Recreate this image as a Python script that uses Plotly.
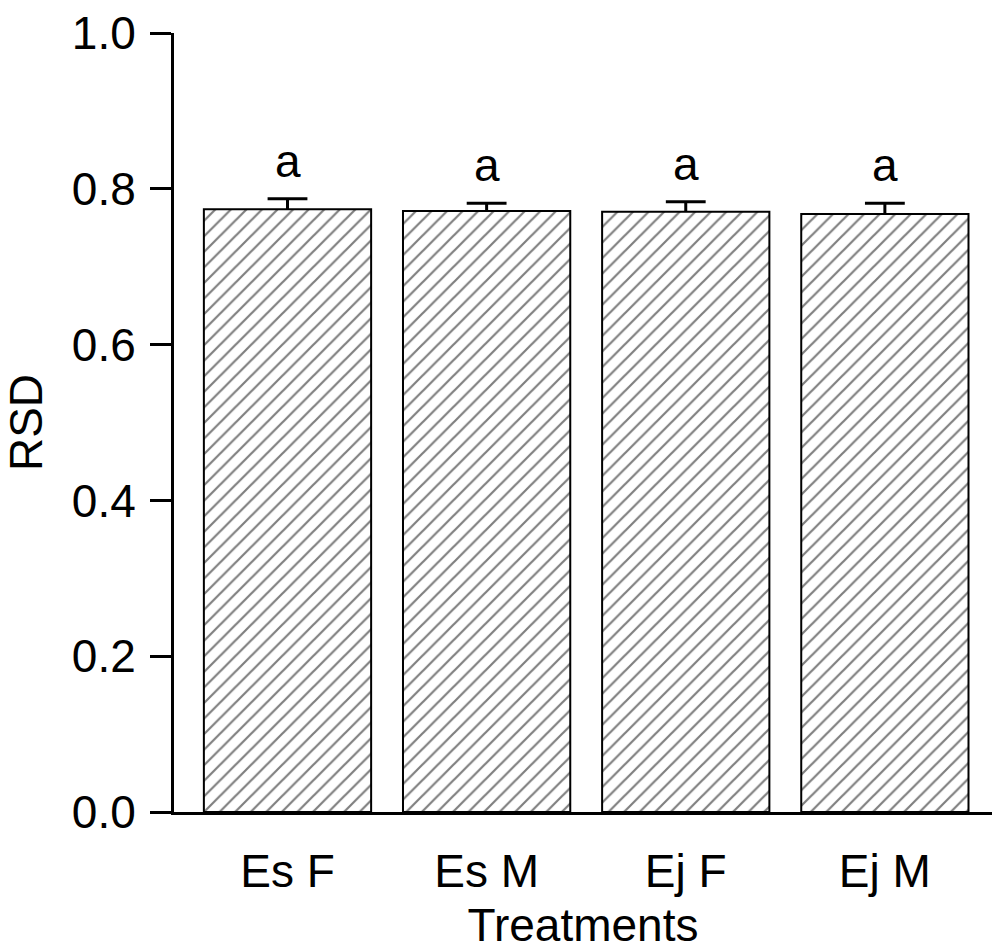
import plotly.graph_objects as go

# Relative standard deviation per treatment group
categories = ["Es F", "Es M", "Ej F", "Ej M"]
rsd_mean = [0.7737, 0.7715, 0.7706, 0.7677]
rsd_err = [0.0136, 0.0098, 0.0128, 0.0136]
group_letters = ["a", "a", "a", "a"]

FONT = "Liberation Sans, Arial, sans-serif"
x_idx = list(range(len(categories)))
CAP_HALF = 0.1  # half cap width in category units

fig = go.Figure()
fig.add_trace(go.Bar(
    x=x_idx,
    y=rsd_mean,
    width=0.84,
    marker=dict(
        color="white",
        line=dict(color="black", width=2),
        pattern=dict(shape="/", fgcolor="black", bgcolor="white",
                     size=11, solidity=0.2),
    ),
    showlegend=False,
))

# Upper-only error bars: a stem from the bar top and a cap at mean + err
ex, ey = [], []
for xi, m, e in zip(x_idx, rsd_mean, rsd_err):
    ex += [xi, xi, None, xi - CAP_HALF, xi + CAP_HALF, None]
    ey += [m, m + e, None, m + e, m + e, None]
fig.add_trace(go.Scatter(x=ex, y=ey, mode="lines",
                         line=dict(color="black", width=3),
                         hoverinfo="skip", showlegend=False))

# Significance letters above each error bar
for xi, m, e, lab in zip(x_idx, rsd_mean, rsd_err, group_letters):
    fig.add_annotation(x=xi, y=m + e, text=lab, showarrow=False,
                       yanchor="middle", yshift=38,
                       font=dict(family=FONT, size=46, color="black"))

fig.update_layout(
    width=992, height=951,
    margin=dict(l=174, r=0, t=33, b=139),
    plot_bgcolor="white", paper_bgcolor="white",
    font=dict(family=FONT, size=46, color="black"),
)
fig.update_xaxes(
    range=[-0.57, 3.538],
    tickvals=x_idx, ticktext=categories,
    showline=True, linecolor="black", linewidth=3,
    ticks="", showgrid=False, zeroline=False,
    title=dict(text="Treatments", standoff=21,
               font=dict(family=FONT, size=46)),
    tickfont=dict(family=FONT, size=46),
    ticklabelstandoff=17,
)
fig.update_yaxes(
    range=[0, 1.0],
    tickvals=[0, 0.2, 0.4, 0.6, 0.8, 1.0],
    ticktext=["0.0", "0.2", "0.4", "0.6", "0.8", "1.0"],
    showline=True, linecolor="black", linewidth=3,
    ticks="outside", ticklen=21, tickwidth=3, tickcolor="black",
    showgrid=False, zeroline=False,
    title=dict(text="RSD", standoff=16, font=dict(family=FONT, size=46)),
    tickfont=dict(family=FONT, size=46),
    ticklabelstandoff=5,
)

fig.write_html("out.html")
